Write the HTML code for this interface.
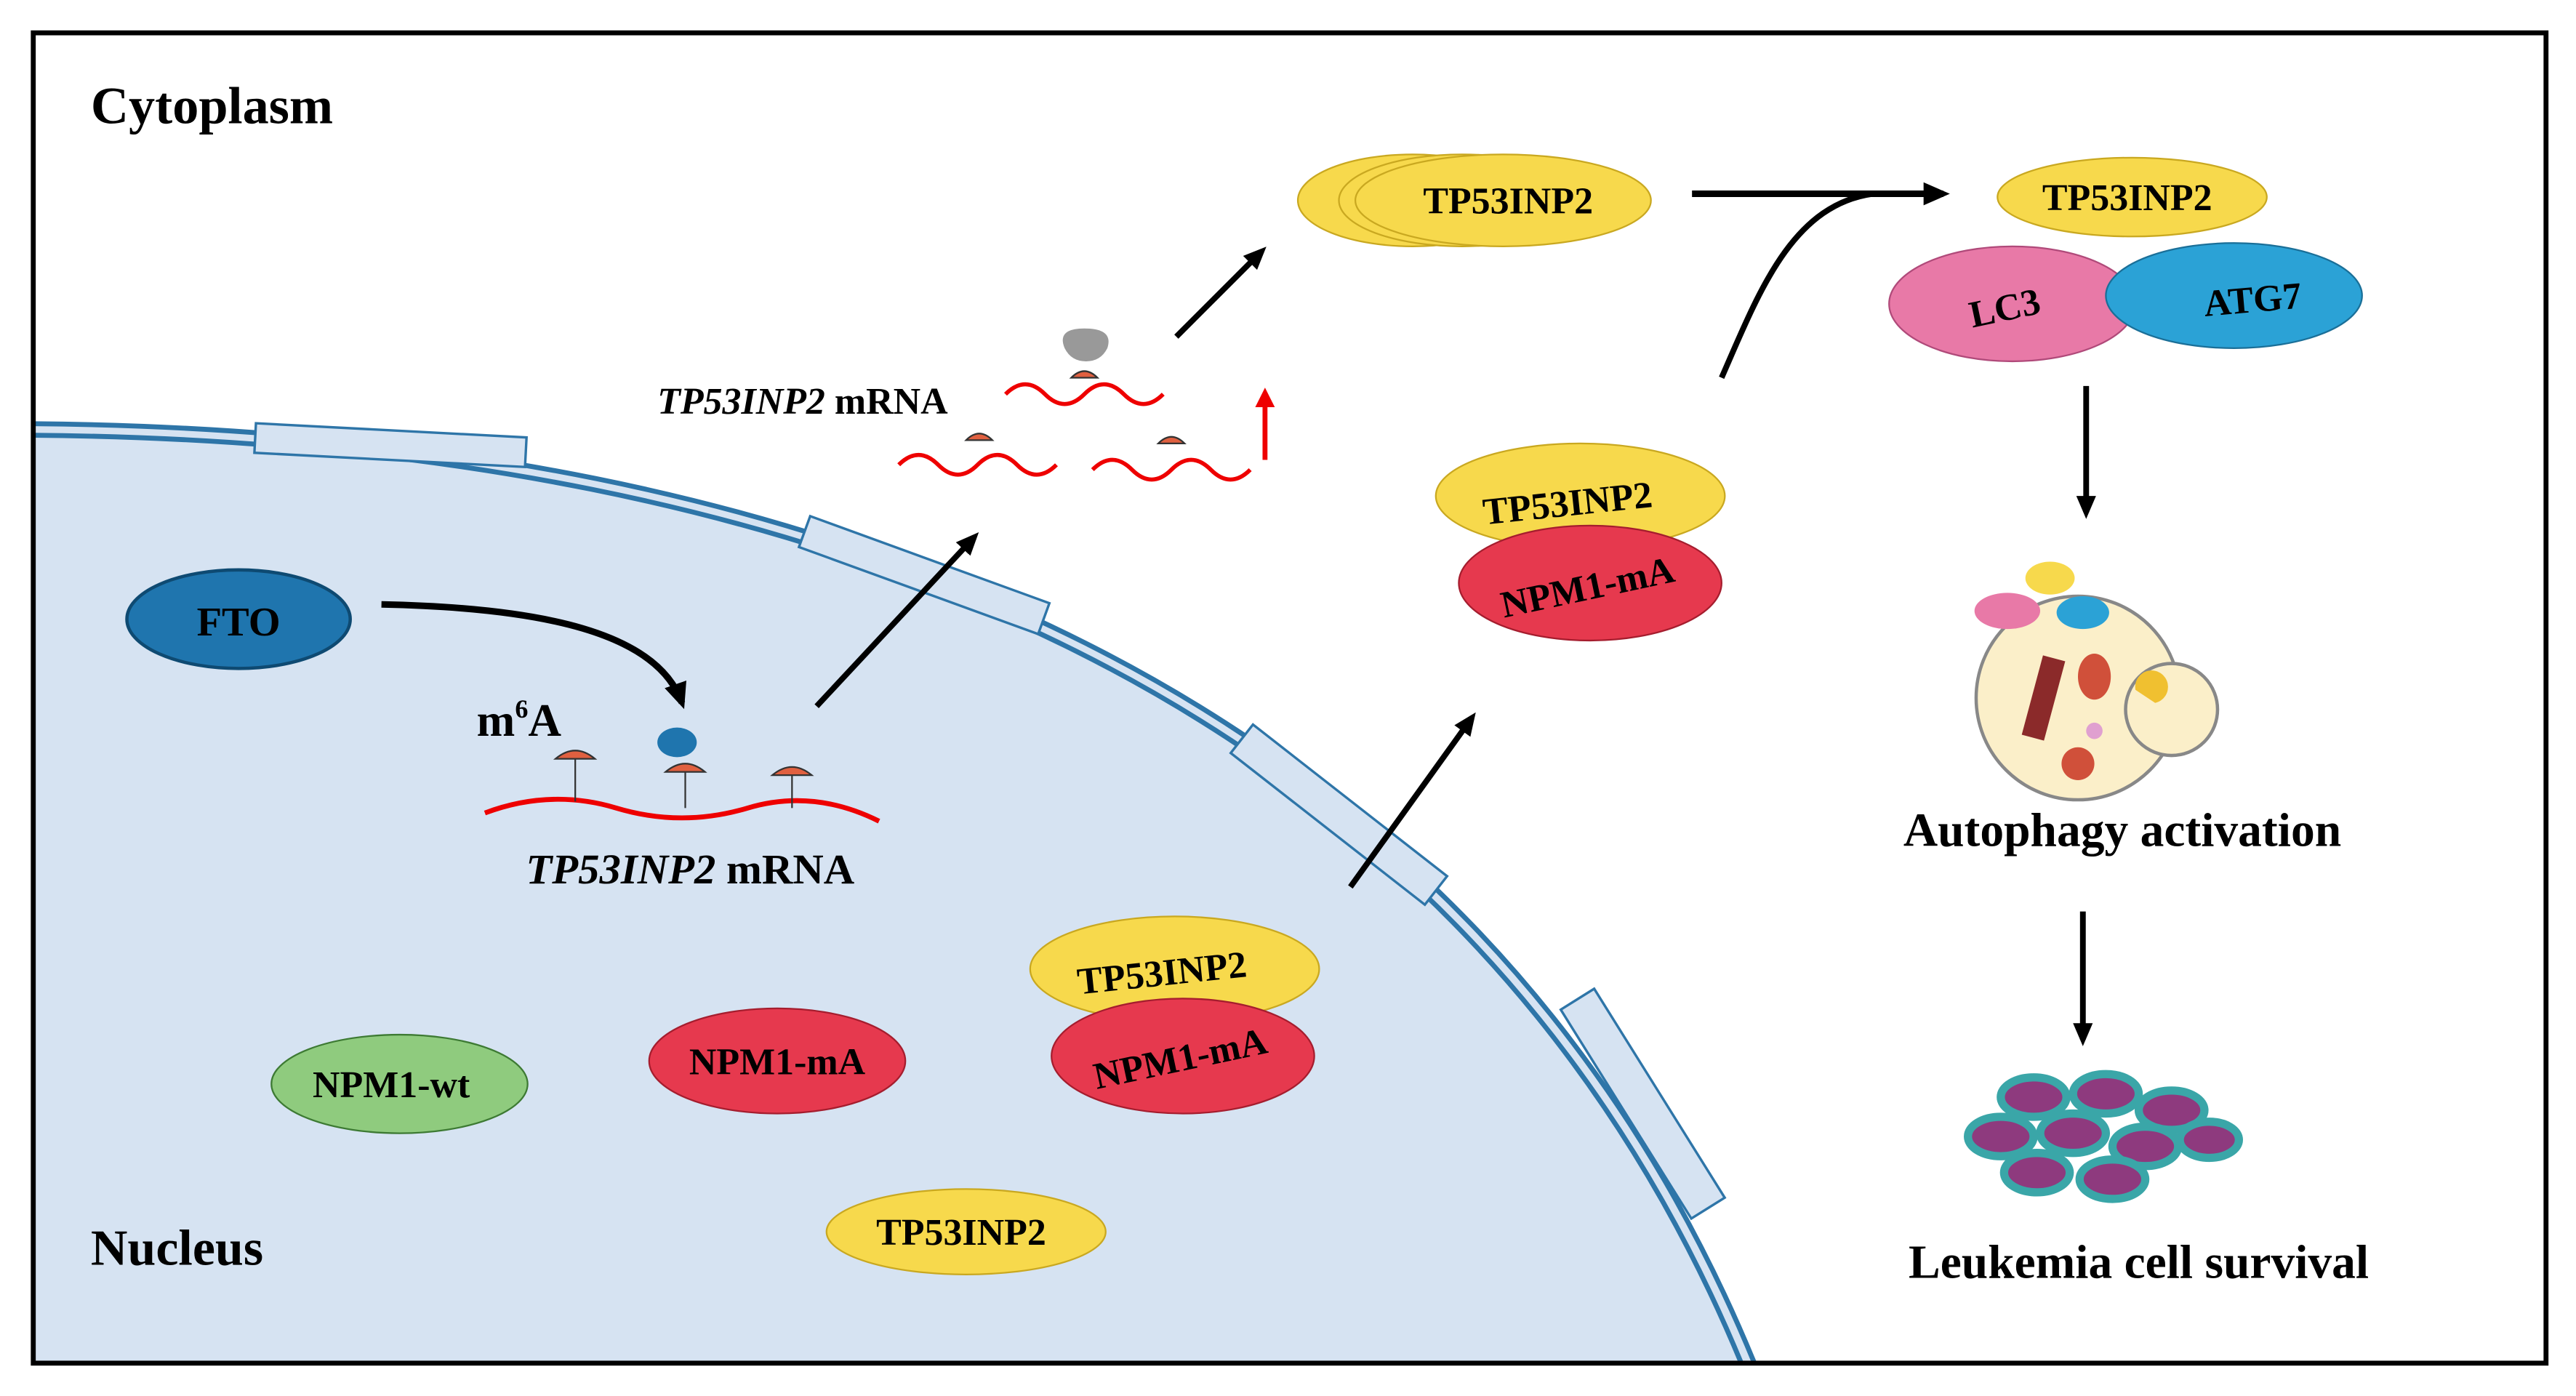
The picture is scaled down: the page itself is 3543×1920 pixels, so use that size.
<!DOCTYPE html>
<html><head><meta charset="utf-8"><style>
html,body{margin:0;padding:0;background:#fff;}
svg{display:block;}
text{font-family:"Liberation Serif",serif;font-weight:bold;}
</style></head><body>
<svg width="3543" height="1920" viewBox="0 0 1568 850" xmlns="http://www.w3.org/2000/svg">
<defs>
<marker id="ah" markerWidth="14" markerHeight="12" refX="10" refY="6" orient="auto" markerUnits="userSpaceOnUse"><path d="M0,0 L14,6 L0,12 Z" fill="#000"/></marker>
<marker id="ahr" markerWidth="12" markerHeight="12" refX="8" refY="6" orient="auto" markerUnits="userSpaceOnUse"><path d="M0,0 L12,6 L0,12 Z" fill="#e00"/></marker>
<marker id="ahb" markerWidth="16" markerHeight="14" refX="12" refY="7" orient="auto" markerUnits="userSpaceOnUse"><path d="M0,0 L16,7 L0,14 Z" fill="#000"/></marker>
</defs>
<rect x="0" y="0" width="1568" height="850" fill="#fff"/>
<path d="M20,258 C500,262 900,420 1068,830 L20,830 Z" fill="#d6e3f2"/>
<path d="M20,258 C500,262 900,420 1068,830" fill="none" stroke="#2e75a8" stroke-width="3"/>
<path d="M20,265 C496,269 892,424 1060,830" fill="none" stroke="#2e75a8" stroke-width="3"/>
<g fill="#d6e3f2" stroke="#2e75a8" stroke-width="1.5">
<rect x="155" y="262" width="165" height="18" transform="rotate(3 237 271)"/>
<rect x="485" y="340" width="155" height="20" transform="rotate(20 562 350)"/>
<rect x="740" y="485" width="150" height="22" transform="rotate(38 815 496)"/>
<rect x="925" y="660" width="150" height="24" transform="rotate(58 1000 672)"/>
</g>
<rect x="20" y="20" width="1530" height="810" fill="none" stroke="#000" stroke-width="3"/>
<text x="55" y="75" font-size="32">Cytoplasm</text>
<text x="55" y="770" font-size="31">Nucleus</text>

<ellipse cx="145" cy="377" rx="68" ry="30" fill="#1f75ae" stroke="#0e4a72" stroke-width="2"/>
<text x="145" y="387" font-size="25" text-anchor="middle">FTO</text>
<path d="M232,368 C330,370 400,385 415,428" fill="none" stroke="#000" stroke-width="4" marker-end="url(#ahb)"/>
<text x="290" y="448" font-size="28">m<tspan font-size="16" dy="-11">6</tspan><tspan dy="11">A</tspan></text>
<path d="M295,495 Q335,480 375,492 T455,492 T535,500" fill="none" stroke="#e00" stroke-width="3"/>
<g fill="#e06040" stroke="#333">
<path d="M338,462 q12,-10 24,0 z"/><line x1="350" y1="462" x2="350" y2="488"/>
<path d="M405,470 q12,-10 24,0 z"/><line x1="417" y1="470" x2="417" y2="492"/>
<path d="M470,472 q12,-10 24,0 z"/><line x1="482" y1="472" x2="482" y2="492"/>
</g>
<ellipse cx="412" cy="452" rx="12" ry="9" fill="#1f75ae"/>
<text x="320" y="538" font-size="26"><tspan font-style="italic">TP53INP2</tspan> mRNA</text>
<line x1="497" y1="430" x2="593" y2="327" stroke="#000" stroke-width="3.5" marker-end="url(#ah)"/>
<text x="400" y="252" font-size="23"><tspan font-style="italic">TP53INP2</tspan> mRNA</text>
<g fill="none" stroke="#e00" stroke-width="2.5">
<path d="M612,240 q12,-12 24,0 t24,0 t24,0 t24,0"/>
<path d="M547,283 q12,-12 24,0 t24,0 t24,0 t24,0"/>
<path d="M665,286 q12,-12 24,0 t24,0 t24,0 t24,0"/>
</g>
<g fill="#e06040" stroke="#333"><path d="M588,268 q8,-8 16,0z"/><path d="M652,230 q8,-8 16,0z"/><path d="M705,270 q8,-8 16,0z"/></g>
<path d="M648,212 q-5,-12 12,-12 q18,0 14,12 q-4,8 -13,8 q-9,0 -13,-8z" fill="#999"/>
<line x1="770" y1="280" x2="770" y2="240" stroke="#e00" stroke-width="3" marker-end="url(#ahr)"/>
<line x1="716" y1="205" x2="768" y2="153" stroke="#000" stroke-width="3.5" marker-end="url(#ah)"/>
<ellipse cx="860" cy="122" rx="70" ry="28" fill="#f7d94c" stroke="#c9a820"/>
<ellipse cx="890" cy="122" rx="75" ry="28" fill="#f7d94c" stroke="#c9a820"/>
<ellipse cx="915" cy="122" rx="90" ry="28" fill="#f7d94c" stroke="#c9a820"/>
<text x="918" y="130" font-size="23" text-anchor="middle">TP53INP2</text>
<line x1="1030" y1="118" x2="1183" y2="118" stroke="#000" stroke-width="4" marker-end="url(#ahb)"/>
<path d="M1048,230 C1070,180 1090,125 1140,118" fill="none" stroke="#000" stroke-width="3.5"/>
<ellipse cx="962" cy="302" rx="88" ry="32" fill="#f7d94c" stroke="#c9a820"/>
<text x="955" y="314" font-size="23" text-anchor="middle" transform="rotate(-6 955 314)">TP53INP2</text>
<ellipse cx="968" cy="355" rx="80" ry="35" fill="#e6394e" stroke="#a51d2e"/>
<text x="968" y="365" font-size="23" text-anchor="middle" transform="rotate(-12 968 365)">NPM1-mA</text>
<line x1="822" y1="540" x2="896" y2="437" stroke="#000" stroke-width="3.5" marker-end="url(#ah)"/>
<ellipse cx="1298" cy="120" rx="82" ry="24" fill="#f7d94c" stroke="#c9a820"/>
<text x="1295" y="128" font-size="23" text-anchor="middle">TP53INP2</text>
<ellipse cx="1225" cy="185" rx="75" ry="35" fill="#e879a7" stroke="#b04a7a"/>
<text x="1222" y="195" font-size="23" text-anchor="middle" transform="rotate(-12 1222 195)">LC3</text>
<ellipse cx="1360" cy="180" rx="78" ry="32" fill="#2ba2d6" stroke="#1a6f98"/>
<text x="1372" y="190" font-size="23" text-anchor="middle" transform="rotate(-5 1372 190)">ATG7</text>
<line x1="1270" y1="235" x2="1270" y2="312" stroke="#000" stroke-width="3.5" marker-end="url(#ah)"/>
<circle cx="1265" cy="425" r="62" fill="#fbefc9" stroke="#888" stroke-width="2"/>
<circle cx="1322" cy="432" r="28" fill="#fbefc9" stroke="#888" stroke-width="2"/>
<ellipse cx="1222" cy="372" rx="20" ry="11" fill="#e879a7"/>
<ellipse cx="1248" cy="352" rx="15" ry="10" fill="#f7d94c"/>
<ellipse cx="1268" cy="373" rx="16" ry="10" fill="#2ba2d6"/>
<rect x="1237" y="400" width="14" height="50" fill="#8b2a2a" transform="rotate(15 1244 425)"/>
<ellipse cx="1275" cy="412" rx="10" ry="14" fill="#d0503a"/>
<circle cx="1275" cy="445" r="5" fill="#e0a0d0"/>
<ellipse cx="1265" cy="465" rx="10" ry="10" fill="#d0503a"/>
<path d="M1300,420 a10,10 0 1 1 12,8 z" fill="#f0c030"/>
<text x="1292" y="515" font-size="29" text-anchor="middle">Autophagy activation</text>
<line x1="1268" y1="555" x2="1268" y2="633" stroke="#000" stroke-width="3.5" marker-end="url(#ah)"/>
<g stroke="#3aa6a8" stroke-width="5" fill="#8e3a7e">
<ellipse cx="1238" cy="668" rx="20" ry="12"/><ellipse cx="1282" cy="666" rx="20" ry="12"/><ellipse cx="1322" cy="676" rx="20" ry="12"/>
<ellipse cx="1218" cy="692" rx="20" ry="12"/><ellipse cx="1262" cy="690" rx="20" ry="12"/><ellipse cx="1306" cy="698" rx="20" ry="12"/><ellipse cx="1345" cy="694" rx="18" ry="11"/>
<ellipse cx="1240" cy="714" rx="20" ry="12"/><ellipse cx="1286" cy="718" rx="20" ry="12"/>
</g>
<text x="1302" y="778" font-size="29" text-anchor="middle">Leukemia cell survival</text>
<ellipse cx="243" cy="660" rx="78" ry="30" fill="#8fcb7e" stroke="#3d7a33"/>
<text x="238" y="668" font-size="23" text-anchor="middle">NPM1-wt</text>
<ellipse cx="473" cy="646" rx="78" ry="32" fill="#e6394e" stroke="#a51d2e"/>
<text x="473" y="654" font-size="23" text-anchor="middle">NPM1-mA</text>
<ellipse cx="715" cy="590" rx="88" ry="32" fill="#f7d94c" stroke="#c9a820"/>
<text x="708" y="600" font-size="23" text-anchor="middle" transform="rotate(-6 708 600)">TP53INP2</text>
<ellipse cx="720" cy="643" rx="80" ry="35" fill="#e6394e" stroke="#a51d2e"/>
<text x="720" y="652" font-size="23" text-anchor="middle" transform="rotate(-12 720 652)">NPM1-mA</text>
<ellipse cx="588" cy="750" rx="85" ry="26" fill="#f7d94c" stroke="#c9a820"/>
<text x="585" y="758" font-size="23" text-anchor="middle">TP53INP2</text>
</svg>
</body></html>
